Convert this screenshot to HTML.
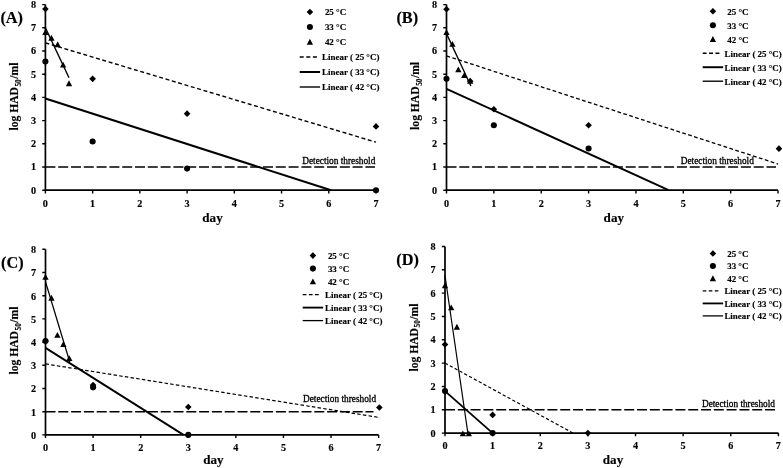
<!DOCTYPE html>
<html><head><meta charset="utf-8"><title>Figure</title>
<style>
html,body{margin:0;padding:0;background:#fff;}
svg{display:block;}
text{font-family:'Liberation Serif', serif;fill:#000;stroke:#000;stroke-width:.15px;}
.tk{font-size:10.2px;font-weight:bold;}
.lg{font-size:8.95px;font-weight:bold;}
.th{font-size:9.3px;stroke:#000;stroke-width:.3px;}
.pl{font-size:16.3px;font-weight:bold;}
.ax{font-size:13.1px;font-weight:bold;}
.yl{font-size:11.6px;font-weight:bold;}
.sub{font-size:7.2px;}
</style></head><body>
<svg width="783" height="468" viewBox="0 0 783 468">
<rect width="783" height="468" fill="#fff"/>
<path d="M45.40 4.60V190.20H376.01" fill="none" stroke="#000" stroke-width="1.7"/>
<path d="M42.20 190.20H45.40M42.20 167.00H45.40M42.20 143.80H45.40M42.20 120.60H45.40M42.20 97.40H45.40M42.20 74.20H45.40M42.20 51.00H45.40M42.20 27.80H45.40M42.20 4.60H45.40M45.40 190.20V193.40M92.63 190.20V193.40M139.86 190.20V193.40M187.09 190.20V193.40M234.32 190.20V193.40M281.55 190.20V193.40M328.78 190.20V193.40M376.01 190.20V193.40" stroke="#000" stroke-width="1.4" fill="none"/>
<text x="36.00" y="193.60" text-anchor="end" class="tk">0</text>
<text x="36.00" y="170.40" text-anchor="end" class="tk">1</text>
<text x="36.00" y="147.20" text-anchor="end" class="tk">2</text>
<text x="36.00" y="124.00" text-anchor="end" class="tk">3</text>
<text x="36.00" y="100.80" text-anchor="end" class="tk">4</text>
<text x="36.00" y="77.60" text-anchor="end" class="tk">5</text>
<text x="36.00" y="54.40" text-anchor="end" class="tk">6</text>
<text x="36.00" y="31.20" text-anchor="end" class="tk">7</text>
<text x="36.00" y="8.00" text-anchor="end" class="tk">8</text>
<text x="45.40" y="206.80" text-anchor="middle" class="tk">0</text>
<text x="92.63" y="206.80" text-anchor="middle" class="tk">1</text>
<text x="139.86" y="206.80" text-anchor="middle" class="tk">2</text>
<text x="187.09" y="206.80" text-anchor="middle" class="tk">3</text>
<text x="234.32" y="206.80" text-anchor="middle" class="tk">4</text>
<text x="281.55" y="206.80" text-anchor="middle" class="tk">5</text>
<text x="328.78" y="206.80" text-anchor="middle" class="tk">6</text>
<text x="376.01" y="206.80" text-anchor="middle" class="tk">7</text>
<path d="M45.40 167.00H375.00" stroke="#000" stroke-width="1.5" stroke-dasharray="10 2.8" fill="none"/>
<text x="375.30" y="163.80" text-anchor="end" class="th">Detection threshold</text>
<path d="M45.40 42.88L376.01 142.18" stroke="#000" stroke-width="1.40" stroke-dasharray="4.00 2.60" fill="none"/>
<path d="M45.40 98.56L331.14 190.20" stroke="#000" stroke-width="2.00" fill="none"/>
<path d="M45.40 27.80L69.02 77.68" stroke="#000" stroke-width="1.40" fill="none"/>
<path d="M45.40 5.71L48.70 9.01L45.40 12.31L42.10 9.01Z"/>
<path d="M92.63 75.54L95.93 78.84L92.63 82.14L89.33 78.84Z"/>
<path d="M187.09 110.34L190.39 113.64L187.09 116.94L183.79 113.64Z"/>
<path d="M376.01 123.10L379.31 126.40L376.01 129.70L372.71 126.40Z"/>
<circle cx="45.40" cy="61.44" r="3.05"/>
<circle cx="92.63" cy="141.48" r="3.05"/>
<circle cx="187.09" cy="168.62" r="3.05"/>
<circle cx="376.01" cy="190.20" r="3.05"/>
<path d="M45.40 29.29L48.55 35.12H42.25Z"/>
<path d="M51.45 34.86L54.60 40.69H48.30Z"/>
<path d="M57.68 41.35L60.83 47.18H54.53Z"/>
<path d="M63.11 61.77L66.26 67.60H59.96Z"/>
<path d="M69.02 80.33L72.17 86.16H65.86Z"/>
<path d="M309.90 8.70L313.20 12.00L309.90 15.30L306.60 12.00Z"/>
<circle cx="309.90" cy="27.00" r="3.05"/>
<path d="M309.90 38.85L313.05 44.68H306.75Z"/>
<text x="324.90" y="15.30" class="lg">25 °C</text>
<text x="324.90" y="30.30" class="lg">33 °C</text>
<text x="324.90" y="45.30" class="lg">42 °C</text>
<path d="M299.70 57.00H317.00" stroke="#000" stroke-width="1.40" stroke-dasharray="4.00 2.60" fill="none"/>
<path d="M299.70 72.00H320.10" stroke="#000" stroke-width="2.00" fill="none"/>
<path d="M299.70 87.00H320.10" stroke="#000" stroke-width="1.40" fill="none"/>
<text x="322.10" y="60.30" class="lg">Linear ( 25 °C)</text>
<text x="322.10" y="75.30" class="lg">Linear ( 33 °C)</text>
<text x="322.10" y="90.30" class="lg">Linear ( 42 °C)</text>
<text x="0.40" y="22.80" class="pl">(A)</text>
<text x="212.50" y="221.50" text-anchor="middle" class="ax">day</text>
<text transform="translate(18.30 96.60) rotate(-90)" text-anchor="middle" class="yl">log HAD<tspan class="sub" dx="0.6" dy="2.9">50</tspan><tspan dx="0.6" dy="-2.9">/ml</tspan></text>
<path d="M446.50 4.60V190.20H778.02" fill="none" stroke="#000" stroke-width="1.7"/>
<path d="M443.30 190.20H446.50M443.30 167.00H446.50M443.30 143.80H446.50M443.30 120.60H446.50M443.30 97.40H446.50M443.30 74.20H446.50M443.30 51.00H446.50M443.30 27.80H446.50M443.30 4.60H446.50M446.50 190.20V193.40M493.86 190.20V193.40M541.22 190.20V193.40M588.58 190.20V193.40M635.94 190.20V193.40M683.30 190.20V193.40M730.66 190.20V193.40M778.02 190.20V193.40" stroke="#000" stroke-width="1.4" fill="none"/>
<text x="437.10" y="193.60" text-anchor="end" class="tk">0</text>
<text x="437.10" y="170.40" text-anchor="end" class="tk">1</text>
<text x="437.10" y="147.20" text-anchor="end" class="tk">2</text>
<text x="437.10" y="124.00" text-anchor="end" class="tk">3</text>
<text x="437.10" y="100.80" text-anchor="end" class="tk">4</text>
<text x="437.10" y="77.60" text-anchor="end" class="tk">5</text>
<text x="437.10" y="54.40" text-anchor="end" class="tk">6</text>
<text x="437.10" y="31.20" text-anchor="end" class="tk">7</text>
<text x="437.10" y="8.00" text-anchor="end" class="tk">8</text>
<text x="446.50" y="206.80" text-anchor="middle" class="tk">0</text>
<text x="493.86" y="206.80" text-anchor="middle" class="tk">1</text>
<text x="541.22" y="206.80" text-anchor="middle" class="tk">2</text>
<text x="588.58" y="206.80" text-anchor="middle" class="tk">3</text>
<text x="635.94" y="206.80" text-anchor="middle" class="tk">4</text>
<text x="683.30" y="206.80" text-anchor="middle" class="tk">5</text>
<text x="730.66" y="206.80" text-anchor="middle" class="tk">6</text>
<text x="778.02" y="206.80" text-anchor="middle" class="tk">7</text>
<path d="M446.50 167.00H776.00" stroke="#000" stroke-width="1.5" stroke-dasharray="10 2.8" fill="none"/>
<text x="753.80" y="163.50" text-anchor="end" class="th">Detection threshold</text>
<path d="M446.50 55.87L778.02 164.03" stroke="#000" stroke-width="1.32" stroke-dasharray="3.76 2.44" fill="none"/>
<path d="M446.50 88.82L668.62 190.20" stroke="#000" stroke-width="1.94" fill="none"/>
<path d="M446.50 33.60L470.89 86.03" stroke="#000" stroke-width="1.32" fill="none"/>
<path d="M446.50 5.94L449.80 9.24L446.50 12.54L443.20 9.24Z"/>
<path d="M470.18 77.86L473.48 81.16L470.18 84.46L466.88 81.16Z"/>
<path d="M493.86 105.93L497.16 109.23L493.86 112.53L490.56 109.23Z"/>
<path d="M588.58 121.94L591.88 125.24L588.58 128.54L585.28 125.24Z"/>
<path d="M778.97 145.37L782.27 148.67L778.97 151.97L775.67 148.67Z"/>
<circle cx="446.50" cy="78.84" r="3.05"/>
<circle cx="493.86" cy="125.24" r="3.05"/>
<circle cx="588.58" cy="148.44" r="3.05"/>
<path d="M446.50 29.29L449.65 35.12H443.35Z"/>
<path d="M452.42 40.89L455.57 46.72H449.27Z"/>
<path d="M458.34 66.41L461.49 72.24H455.19Z"/>
<path d="M464.26 72.21L467.41 78.04H461.11Z"/>
<path d="M470.18 78.01L473.33 83.84H467.03Z"/>
<path d="M712.90 8.00L716.20 11.30L712.90 14.60L709.60 11.30Z"/>
<circle cx="712.90" cy="25.28" r="3.05"/>
<path d="M712.90 36.11L716.05 41.94H709.75Z"/>
<text x="727.30" y="14.60" class="lg">25 °C</text>
<text x="727.30" y="28.58" class="lg">33 °C</text>
<text x="727.30" y="42.56" class="lg">42 °C</text>
<path d="M702.70 53.24H719.47" stroke="#000" stroke-width="1.36" stroke-dasharray="3.88 2.52" fill="none"/>
<path d="M702.70 67.22H723.10" stroke="#000" stroke-width="1.94" fill="none"/>
<path d="M702.70 81.20H723.10" stroke="#000" stroke-width="1.36" fill="none"/>
<text x="724.50" y="56.54" class="lg">Linear ( 25 °C)</text>
<text x="724.50" y="70.52" class="lg">Linear ( 33 °C)</text>
<text x="724.50" y="84.50" class="lg">Linear ( 42 °C)</text>
<text x="396.40" y="22.50" class="pl">(B)</text>
<text x="613.80" y="221.50" text-anchor="middle" class="ax">day</text>
<text transform="translate(419.00 95.90) rotate(-90)" text-anchor="middle" class="yl">log HAD<tspan class="sub" dx="0.6" dy="2.9">50</tspan><tspan dx="0.6" dy="-2.9">/ml</tspan></text>
<path d="M45.50 249.30V434.90H378.63" fill="none" stroke="#000" stroke-width="1.7"/>
<path d="M42.30 434.90H45.50M42.30 411.70H45.50M42.30 388.50H45.50M42.30 365.30H45.50M42.30 342.10H45.50M42.30 318.90H45.50M42.30 295.70H45.50M42.30 272.50H45.50M42.30 249.30H45.50M45.50 434.90V438.10M93.09 434.90V438.10M140.68 434.90V438.10M188.27 434.90V438.10M235.86 434.90V438.10M283.45 434.90V438.10M331.04 434.90V438.10M378.63 434.90V438.10" stroke="#000" stroke-width="1.4" fill="none"/>
<text x="36.10" y="438.80" text-anchor="end" class="tk">0</text>
<text x="36.10" y="415.60" text-anchor="end" class="tk">1</text>
<text x="36.10" y="392.40" text-anchor="end" class="tk">2</text>
<text x="36.10" y="369.20" text-anchor="end" class="tk">3</text>
<text x="36.10" y="346.00" text-anchor="end" class="tk">4</text>
<text x="36.10" y="322.80" text-anchor="end" class="tk">5</text>
<text x="36.10" y="299.60" text-anchor="end" class="tk">6</text>
<text x="36.10" y="276.40" text-anchor="end" class="tk">7</text>
<text x="36.10" y="253.20" text-anchor="end" class="tk">8</text>
<text x="45.50" y="451.10" text-anchor="middle" class="tk">0</text>
<text x="93.09" y="451.10" text-anchor="middle" class="tk">1</text>
<text x="140.68" y="451.10" text-anchor="middle" class="tk">2</text>
<text x="188.27" y="451.10" text-anchor="middle" class="tk">3</text>
<text x="235.86" y="451.10" text-anchor="middle" class="tk">4</text>
<text x="283.45" y="451.10" text-anchor="middle" class="tk">5</text>
<text x="331.04" y="451.10" text-anchor="middle" class="tk">6</text>
<text x="378.63" y="451.10" text-anchor="middle" class="tk">7</text>
<path d="M45.50 411.70H373.50" stroke="#000" stroke-width="1.5" stroke-dasharray="10 2.8" fill="none"/>
<text x="376.10" y="401.70" text-anchor="end" class="th">Detection threshold</text>
<path d="M45.50 363.91L380.06 417.62" stroke="#000" stroke-width="1.22" stroke-dasharray="3.48 2.26" fill="none"/>
<path d="M45.50 347.90L183.51 434.90" stroke="#000" stroke-width="1.87" fill="none"/>
<path d="M45.50 281.78L69.77 362.05" stroke="#000" stroke-width="1.22" fill="none"/>
<path d="M45.50 337.64L48.80 340.94L45.50 344.24L42.20 340.94Z"/>
<path d="M93.09 381.72L96.39 385.02L93.09 388.32L89.79 385.02Z"/>
<path d="M188.27 403.76L191.57 407.06L188.27 410.36L184.97 407.06Z"/>
<path d="M379.34 404.22L382.64 407.52L379.34 410.82L376.04 407.52Z"/>
<circle cx="45.50" cy="340.94" r="3.05"/>
<circle cx="93.09" cy="387.34" r="3.05"/>
<circle cx="188.27" cy="434.90" r="3.05"/>
<path d="M45.50 273.99L48.65 279.82H42.35Z"/>
<path d="M51.45 294.87L54.60 300.70H48.30Z"/>
<path d="M57.40 331.99L60.55 337.82H54.25Z"/>
<path d="M63.35 341.27L66.50 347.10H60.20Z"/>
<path d="M69.30 355.19L72.45 361.02H66.14Z"/>
<path d="M312.90 252.30L316.20 255.60L312.90 258.90L309.60 255.60Z"/>
<circle cx="312.90" cy="268.60" r="3.05"/>
<path d="M312.90 278.45L316.05 284.28H309.75Z"/>
<text x="327.90" y="258.90" class="lg">25 °C</text>
<text x="327.90" y="271.90" class="lg">33 °C</text>
<text x="327.90" y="284.90" class="lg">42 °C</text>
<path d="M302.70 294.60H318.84" stroke="#000" stroke-width="1.31" stroke-dasharray="3.73 2.43" fill="none"/>
<path d="M302.70 307.60H323.10" stroke="#000" stroke-width="1.87" fill="none"/>
<path d="M302.70 320.60H323.10" stroke="#000" stroke-width="1.31" fill="none"/>
<text x="325.10" y="297.90" class="lg">Linear ( 25 °C)</text>
<text x="325.10" y="310.90" class="lg">Linear ( 33 °C)</text>
<text x="325.10" y="323.90" class="lg">Linear ( 42 °C)</text>
<text x="1.00" y="268.00" class="pl">(C)</text>
<text x="213.40" y="464.00" text-anchor="middle" class="ax">day</text>
<text transform="translate(18.30 340.50) rotate(-90)" text-anchor="middle" class="yl">log HAD<tspan class="sub" dx="0.6" dy="2.9">50</tspan><tspan dx="0.6" dy="-2.9">/ml</tspan></text>
<path d="M445.00 246.46V433.10H778.41" fill="none" stroke="#000" stroke-width="1.7"/>
<path d="M441.80 433.10H445.00M441.80 409.77H445.00M441.80 386.44H445.00M441.80 363.11H445.00M441.80 339.78H445.00M441.80 316.45H445.00M441.80 293.12H445.00M441.80 269.79H445.00M441.80 246.46H445.00M445.00 433.10V436.30M492.63 433.10V436.30M540.26 433.10V436.30M587.89 433.10V436.30M635.52 433.10V436.30M683.15 433.10V436.30M730.78 433.10V436.30M778.41 433.10V436.30" stroke="#000" stroke-width="1.4" fill="none"/>
<text x="435.60" y="436.50" text-anchor="end" class="tk">0</text>
<text x="435.60" y="413.17" text-anchor="end" class="tk">1</text>
<text x="435.60" y="389.84" text-anchor="end" class="tk">2</text>
<text x="435.60" y="366.51" text-anchor="end" class="tk">3</text>
<text x="435.60" y="343.18" text-anchor="end" class="tk">4</text>
<text x="435.60" y="319.85" text-anchor="end" class="tk">5</text>
<text x="435.60" y="296.52" text-anchor="end" class="tk">6</text>
<text x="435.60" y="273.19" text-anchor="end" class="tk">7</text>
<text x="435.60" y="249.86" text-anchor="end" class="tk">8</text>
<text x="445.00" y="448.90" text-anchor="middle" class="tk">0</text>
<text x="492.63" y="448.90" text-anchor="middle" class="tk">1</text>
<text x="540.26" y="448.90" text-anchor="middle" class="tk">2</text>
<text x="587.89" y="448.90" text-anchor="middle" class="tk">3</text>
<text x="635.52" y="448.90" text-anchor="middle" class="tk">4</text>
<text x="683.15" y="448.90" text-anchor="middle" class="tk">5</text>
<text x="730.78" y="448.90" text-anchor="middle" class="tk">6</text>
<text x="778.41" y="448.90" text-anchor="middle" class="tk">7</text>
<path d="M445.00 409.77H775.00" stroke="#000" stroke-width="1.5" stroke-dasharray="10 2.8" fill="none"/>
<text x="775.00" y="406.80" text-anchor="end" class="th">Detection threshold</text>
<path d="M445.00 363.11L573.12 433.10" stroke="#000" stroke-width="1.16" stroke-dasharray="3.32 2.16" fill="none"/>
<path d="M445.00 391.11L492.63 433.10" stroke="#000" stroke-width="1.82" fill="none"/>
<path d="M445.00 275.62L467.86 433.10" stroke="#000" stroke-width="1.16" fill="none"/>
<path d="M445.00 341.15L448.30 344.45L445.00 347.75L441.70 344.45Z"/>
<path d="M492.63 411.60L495.93 414.90L492.63 418.20L489.33 414.90Z"/>
<path d="M587.89 429.80L591.19 433.10L587.89 436.40L584.59 433.10Z"/>
<circle cx="445.00" cy="391.11" r="3.05"/>
<circle cx="492.63" cy="433.10" r="3.05"/>
<path d="M445.00 282.50L448.15 288.33H441.85Z"/>
<path d="M451.19 304.43L454.34 310.26H448.04Z"/>
<path d="M456.91 323.80L460.06 329.63H453.76Z"/>
<path d="M462.86 430.42L466.01 436.24H459.71Z"/>
<path d="M468.81 430.42L471.96 436.24H465.67Z"/>
<path d="M712.90 250.20L716.20 253.50L712.90 256.80L709.60 253.50Z"/>
<circle cx="712.90" cy="265.98" r="3.05"/>
<path d="M712.90 275.31L716.05 281.14H709.75Z"/>
<text x="727.20" y="256.80" class="lg">25 °C</text>
<text x="727.20" y="269.28" class="lg">33 °C</text>
<text x="727.20" y="281.76" class="lg">42 °C</text>
<path d="M702.70 290.94H718.46" stroke="#000" stroke-width="1.28" stroke-dasharray="3.64 2.37" fill="none"/>
<path d="M702.70 303.42H723.10" stroke="#000" stroke-width="1.82" fill="none"/>
<path d="M702.70 315.90H723.10" stroke="#000" stroke-width="1.28" fill="none"/>
<text x="724.40" y="294.24" class="lg">Linear ( 25 °C)</text>
<text x="724.40" y="306.72" class="lg">Linear ( 33 °C)</text>
<text x="724.40" y="319.20" class="lg">Linear ( 42 °C)</text>
<text x="396.30" y="265.00" class="pl">(D)</text>
<text x="613.00" y="463.80" text-anchor="middle" class="ax">day</text>
<text transform="translate(417.50 337.50) rotate(-90)" text-anchor="middle" class="yl">log HAD<tspan class="sub" dx="0.6" dy="2.9">50</tspan><tspan dx="0.6" dy="-2.9">/ml</tspan></text>
</svg>
</body></html>
